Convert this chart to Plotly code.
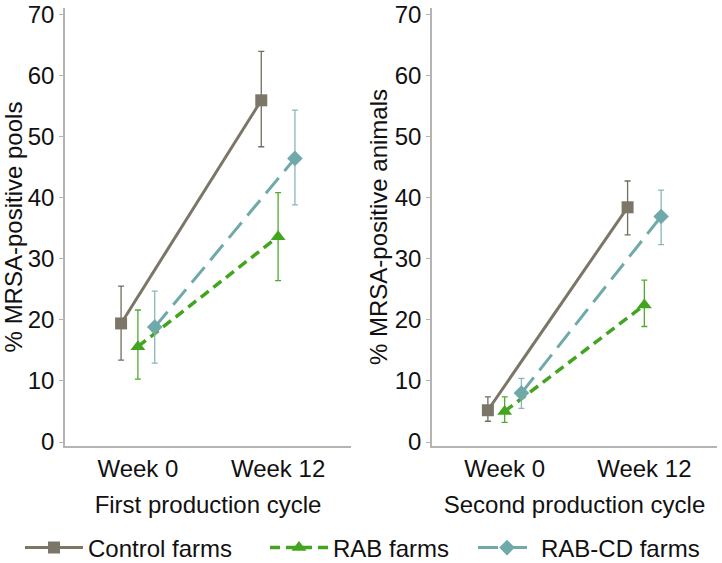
import plotly.graph_objects as go

weeks = ["Week 0", "Week 12"]
series_names = ["Control farms", "RAB farms", "RAB-CD farms"]

# First production cycle: % MRSA-positive pools
pools_mean = {"Control farms": [19.4, 55.9], "RAB farms": [15.6, 33.6], "RAB-CD farms": [18.8, 46.4]}
pools_low = {"Control farms": [13.4, 48.3], "RAB farms": [10.3, 26.4], "RAB-CD farms": [12.9, 38.8]}
pools_high = {"Control farms": [25.5, 63.9], "RAB farms": [21.6, 40.8], "RAB-CD farms": [24.7, 54.3]}

# Second production cycle: % MRSA-positive animals
animals_mean = {"Control farms": [5.2, 38.4], "RAB farms": [5.0, 22.4], "RAB-CD farms": [8.0, 36.9]}
animals_low = {"Control farms": [3.4, 33.9], "RAB farms": [3.2, 18.9], "RAB-CD farms": [5.5, 32.3]}
animals_high = {"Control farms": [7.4, 42.7], "RAB farms": [7.4, 26.5], "RAB-CD farms": [10.4, 41.2]}

y_ticks = [0, 10, 20, 30, 40, 50, 60, 70]

styles = {
    "Control farms": dict(color="#7b7668", err="#716d60", dash="solid", symbol="square", size=12,
                          width=3, legend="legend", lx=20),
    "RAB farms": dict(color="#43a51f", err="#4fab2c", dash="10px,6px", symbol="triangle-up", size=13,
                      width=3.5, legend="legend2", lx=265),
    "RAB-CD farms": dict(color="#6fa9a9", err="#8ab6b8", dash="20px,9px", symbol="diamond", size=12,
                         width=3, legend="legend3", lx=473),
}

FONT = "Liberation Sans, Arial, sans-serif"
FS = 24
fig = go.Figure()

for panel, (means, lows, highs) in enumerate([(pools_mean, pools_low, pools_high),
                                               (animals_mean, animals_low, animals_high)]):
    xa = "x" if panel == 0 else "x2"
    ya = "y" if panel == 0 else "y2"
    for name in series_names:
        s = styles[name]
        m = means[name]
        plus = [h - v for h, v in zip(highs[name], m)]
        minus = [v - l for v, l in zip(m, lows[name])]
        fig.add_trace(go.Scatter(
            x=weeks, y=m, name=name, xaxis=xa, yaxis=ya, legend=s["legend"],
            mode="lines+markers", legendgroup=name, showlegend=(panel == 0),
            line=dict(color=s["color"], width=s["width"], dash=s["dash"]),
            marker=dict(symbol=s["symbol"], size=s["size"], color=s["color"]),
            error_y=dict(type="data", symmetric=False, array=plus, arrayminus=minus,
                         color=s["err"], thickness=1.3, width=3),
            cliponaxis=False,
        ))

# The page shows 722x563; the figure is a little taller so the bottom legend is not
# pushed up by plotly's keep-inside rule (extra rows are outside the window).
W, H = 722, 571

def fy(px):
    """paper fraction for a pixel row measured from the top"""
    return 1 - px / H

axis_common = dict(showline=True, linecolor="#b4b4b4", linewidth=1.5, showgrid=False,
                   zeroline=False, tickfont=dict(size=FS, color="#111111", family=FONT))

def legend_at(px):
    return dict(orientation="h", x=px / W, xanchor="left", y=fy(548), yanchor="middle",
                font=dict(size=FS, family=FONT, color="#111111"), itemwidth=58,
                bgcolor="rgba(0,0,0,0)")

fig.update_layout(
    width=W, height=H,
    margin=dict(l=0, r=0, t=0, b=0),
    paper_bgcolor="white", plot_bgcolor="white",
    font=dict(family=FONT, size=FS, color="#111111"),
    scattermode="group", scattergap=0.64,
    xaxis=dict(domain=[65 / W, 351 / W], anchor="y", type="category", range=[-0.52, 1.52],
               ticks="", title=dict(text="First production cycle", standoff=16, font=dict(size=FS)),
               automargin=False, **axis_common),
    xaxis2=dict(domain=[432 / W, 717 / W], anchor="y2", type="category", range=[-0.52, 1.52],
                ticks="", title=dict(text="Second production cycle", standoff=16, font=dict(size=FS)),
                automargin=False, **axis_common),
    yaxis=dict(domain=[fy(446), fy(8)], anchor="x", range=[-0.65, 71],
               tickvals=y_ticks, ticks="outside", ticklen=4, tickcolor="#b4b4b4", tickwidth=1,
               title=dict(text="% MRSA-positive pools", standoff=1, font=dict(size=FS)),
               automargin=False, **axis_common),
    yaxis2=dict(domain=[fy(446), fy(8)], anchor="x2", range=[-0.65, 71],
                tickvals=y_ticks, ticks="outside", ticklen=4, tickcolor="#b4b4b4", tickwidth=1,
                title=dict(text="% MRSA-positive animals", standoff=0, font=dict(size=FS)),
                automargin=False, **axis_common),
    legend=legend_at(styles["Control farms"]["lx"]),
    legend2=legend_at(styles["RAB farms"]["lx"]),
    legend3=legend_at(styles["RAB-CD farms"]["lx"]),
)

fig.write_html(
    "out.html",
    config={"displayModeBar": False},
    post_script=("document.body.style.margin='0';"
                 "document.body.style.overflow='hidden';"
                 "document.documentElement.style.overflow='hidden';"),
)
